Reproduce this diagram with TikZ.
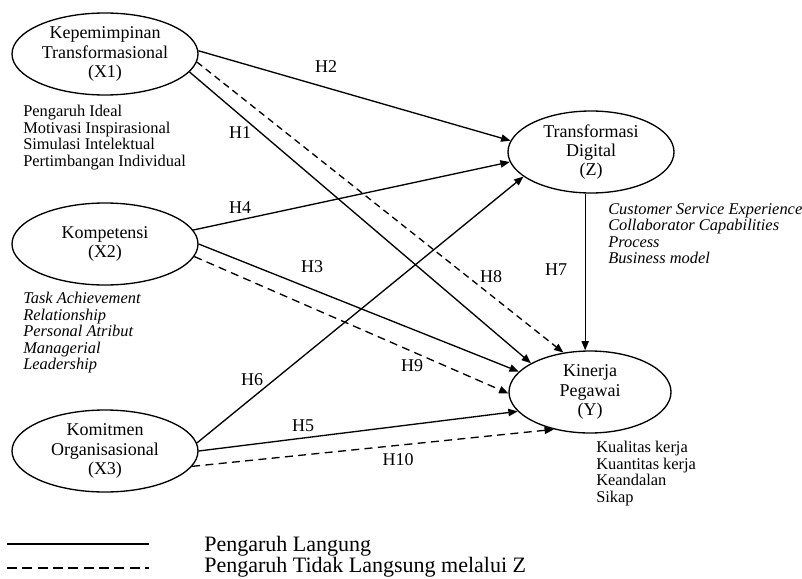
\documentclass[tikz,border=0pt]{standalone}
\usepackage{fontspec}
\setmainfont{Liberation Serif}
\usetikzlibrary{arrows.meta,shapes.geometric}
\begin{document}
\begin{tikzpicture}[x=0.75pt,y=-0.75pt,
  var/.style={draw, line width=1pt, ellipse, inner sep=0pt, minimum width=139.5pt, minimum height=61.5pt, align=center, font=\fontsize{13.5}{14.3}\selectfont},
  ind/.style={anchor=north west, inner sep=0pt, align=left, font=\fontsize{12.3}{12.4}\selectfont},
  indi/.style={anchor=north west, inner sep=0pt, align=left, font=\fontsize{12.3}{12.4}\selectfont\itshape},
  hyp/.style={inner sep=0pt, font=\fontsize{13.5}{14}\selectfont},
  direct/.style={line width=1pt, -{Triangle[length=7pt,width=5.5pt]}},
  indirect/.style={direct, dash pattern=on 5pt off 3.5pt},
  legline/.style={line width=1pt},
  legtext/.style={anchor=base west, inner sep=0pt, font=\fontsize{16.5}{18}\selectfont}
]
\useasboundingbox (0,0) rectangle (802,578);

% variables
\node[var] (X1) at (105,54) {Kepemimpinan\\Transformasional\\(X1)};
\node[var] (X2) at (105,244) {Kompetensi\\(X2)};
\node[var] (X3) at (105,451) {Komitmen\\Organisasional\\(X3)};
\node[var, minimum width=124.5pt] (Z) at (591,152) {Transformasi\\Digital\\(Z)};
\node[var, minimum width=121.5pt] (Y) at (590,392) {Kinerja\\Pegawai\\(Y)};

% indicators
\node[ind] (iX1) at (23,105) {Pengaruh Ideal\\Motivasi Inspirasional\\Simulasi Intelektual\\Pertimbangan Individual};
\node[indi] (iX2) at (23,292) {Task Achievement\\Relationship\\Personal Atribut\\Managerial\\Leadership};
\node[indi] (iZ) at (608,203) {Customer Service Experience\\Collaborator Capabilities\\Process\\Business model};
\node[ind] (iY) at (596,441) {Kualitas kerja\\Kuantitas kerja\\Keandalan\\Sikap};

% connectors
\draw[direct] (X1.2.5) -- (Z.172);
\draw[direct] (X1.-12) -- (Y.154);
\draw[indirect] (X1.-5) -- (Y.124);
\draw[direct] (X2.9) -- (Z.-173);
\draw[direct] (X2.0) -- (Y.164);
\draw[indirect, dash pattern=on 6pt off 4pt] (X2.-8) -- (Y.181);
\draw[direct] (X3.5) -- (Z.-160);
\draw[direct] (X3.0) -- (Y.-165);
\draw[indirect, dash pattern=on 6pt off 4pt] (X3.-10) -- (Y.-134);
\draw[direct] (Z.-98.5) -- (Z.-98.5 |- Y.north);

% hypothesis labels
\node[hyp] (h2) at (326,67) {H2};
\node[hyp] (h1) at (240,133) {H1};
\node[hyp] (h8) at (491,277) {H8};
\node[hyp] (h4) at (240,208) {H4};
\node[hyp] (h3) at (312,267) {H3};
\node[hyp] (h9) at (412,366) {H9};
\node[hyp] (h6) at (252,380) {H6};
\node[hyp] (h5) at (303,426) {H5};
\node[hyp] (h10) at (398,460) {H10};
\node[hyp] (h7) at (556,270) {H7};

% legend
\coordinate (la1) at (7,544);
\coordinate (lb1) at (149,544);
\coordinate (la2) at (7,568);
\coordinate (lb2) at (149,568);
\draw[legline] (la1) -- (lb1);
\draw[legline, dash pattern=on 7.5pt off 4pt] (la2) -- (lb2);
\node[legtext] (lt1) at (204,551) {Pengaruh Langung};
\node[legtext] (lt2) at (204,572) {Pengaruh Tidak Langsung melalui Z};
\end{tikzpicture}
\end{document}
